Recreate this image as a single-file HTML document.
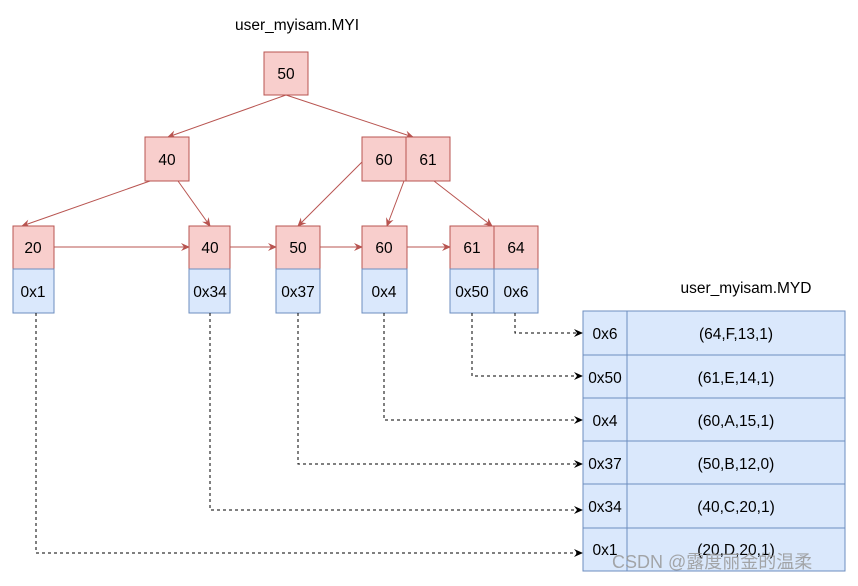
<!DOCTYPE html><html><head><style>body{margin:0;background:#fff}</style></head><body>
<svg width="858" height="581" xmlns="http://www.w3.org/2000/svg" font-family="Liberation Sans, Helvetica, sans-serif" font-size="15.5">
<defs>
<marker id="r" markerWidth="10" markerHeight="10" refX="8" refY="5" orient="auto" markerUnits="userSpaceOnUse"><path d="M0,1 L9,5 L0,9 L3,5z" fill="#b85450"/></marker>
<marker id="k" markerWidth="10" markerHeight="10" refX="8" refY="5" orient="auto" markerUnits="userSpaceOnUse"><path d="M0,1 L9,5 L0,9 L3,5z" fill="#000"/></marker>
</defs>
<text x="297" y="30" text-anchor="middle">user_myisam.MYI</text>
<text x="746" y="293" text-anchor="middle">user_myisam.MYD</text>
<g stroke="#b85450" stroke-width="1" fill="none">
<line x1="286" y1="95" x2="168" y2="137" marker-end="url(#r)"/>
<line x1="286" y1="95" x2="413" y2="137" marker-end="url(#r)"/>
<line x1="150" y1="181" x2="22" y2="226" marker-end="url(#r)"/>
<line x1="178" y1="181" x2="210" y2="226" marker-end="url(#r)"/>
<line x1="362" y1="162" x2="298" y2="226" marker-end="url(#r)"/>
<line x1="404" y1="181" x2="387" y2="226" marker-end="url(#r)"/>
<line x1="434" y1="181" x2="492" y2="226" marker-end="url(#r)"/>
<line x1="54" y1="247" x2="189" y2="247" marker-end="url(#r)"/>
<line x1="230" y1="247" x2="276" y2="247" marker-end="url(#r)"/>
<line x1="320" y1="247" x2="362" y2="247" marker-end="url(#r)"/>
<line x1="407" y1="247" x2="450" y2="247" marker-end="url(#r)"/>
</g>
<g stroke="#b85450" fill="#f8cecc">
<rect x="264" y="52" width="44" height="43"/>
<rect x="145" y="137" width="44" height="44"/>
<rect x="362" y="137" width="44" height="44"/><rect x="406" y="137" width="44" height="44"/>
<rect x="13" y="226" width="41" height="43"/>
<rect x="189" y="226" width="41" height="43"/>
<rect x="276" y="226" width="44" height="43"/>
<rect x="362" y="226" width="45" height="43"/>
<rect x="450" y="226" width="44" height="43"/><rect x="494" y="226" width="44" height="43"/>
</g>
<g stroke="#6c8ebf" fill="#dae8fc">
<rect x="13" y="269" width="41" height="44"/>
<rect x="189" y="269" width="41" height="44"/>
<rect x="276" y="269" width="44" height="44"/>
<rect x="362" y="269" width="45" height="44"/>
<rect x="450" y="269" width="44" height="44"/><rect x="494" y="269" width="44" height="44"/>
</g>
<g text-anchor="middle" fill="#000">
<text x="286" y="79">50</text>
<text x="167" y="165">40</text><text x="384" y="165">60</text><text x="428" y="165">61</text>
<text x="33" y="253">20</text><text x="210" y="253">40</text><text x="298" y="253">50</text><text x="384" y="253">60</text><text x="472" y="253">61</text><text x="516" y="253">64</text>
<text x="33" y="297">0x1</text><text x="210" y="297">0x34</text><text x="298" y="297">0x37</text><text x="384" y="297">0x4</text><text x="472" y="297">0x50</text><text x="516" y="297">0x6</text>
</g>
<g stroke="#000" fill="none" stroke-dasharray="3,3">
<polyline points="36,313 36,553 582,553" marker-end="url(#k)"/>
<polyline points="210,313 210,510 582,510" marker-end="url(#k)"/>
<polyline points="298,313 298,464 582,464" marker-end="url(#k)"/>
<polyline points="384,313 384,420 582,420" marker-end="url(#k)"/>
<polyline points="472,313 472,376 582,376" marker-end="url(#k)"/>
<polyline points="515,313 515,333 582,333" marker-end="url(#k)"/>
</g>
<g stroke="#6c8ebf" fill="#dae8fc">
<rect x="583" y="311" width="44" height="44"/><rect x="627" y="311" width="218" height="44"/>
<rect x="583" y="355" width="44" height="43"/><rect x="627" y="355" width="218" height="43"/>
<rect x="583" y="398" width="44" height="43"/><rect x="627" y="398" width="218" height="43"/>
<rect x="583" y="441" width="44" height="43"/><rect x="627" y="441" width="218" height="43"/>
<rect x="583" y="484" width="44" height="44"/><rect x="627" y="484" width="218" height="44"/>
<rect x="583" y="528" width="44" height="43"/><rect x="627" y="528" width="218" height="43"/>
</g>
<g text-anchor="middle" fill="#000">
<text x="605" y="339">0x6</text><text x="736" y="339">(64,F,13,1)</text>
<text x="605" y="383">0x50</text><text x="736" y="383">(61,E,14,1)</text>
<text x="605" y="426">0x4</text><text x="736" y="426">(60,A,15,1)</text>
<text x="605" y="469">0x37</text><text x="736" y="469">(50,B,12,0)</text>
<text x="605" y="512">0x34</text><text x="736" y="512">(40,C,20,1)</text>
<text x="605" y="555">0x1</text><text x="736" y="555">(20,D,20,1)</text>
</g>
<text x="612" y="568" font-size="18" fill="#999" opacity="0.85" font-family="Liberation Sans, Noto Sans CJK SC, sans-serif">CSDN @露度丽金的温柔</text>
</svg>
</body></html>
